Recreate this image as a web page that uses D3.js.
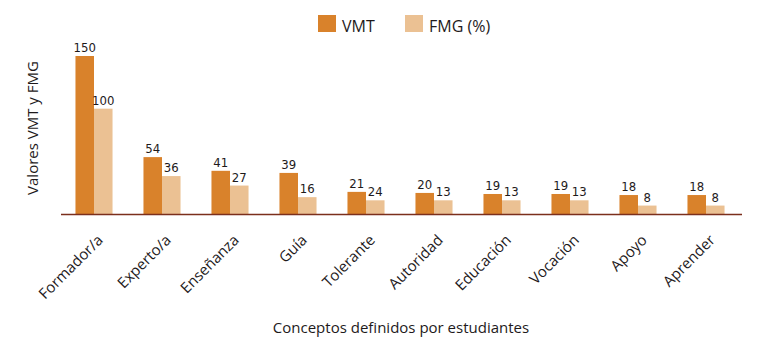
<!DOCTYPE html>
<html>
<head>
<meta charset="utf-8">
<script src="https://cdn.jsdelivr.net/npm/d3@7"></script>
<style>
  body { margin: 0; background: #fff; }
  svg text { font-family: "Open Sans", "Noto Sans", sans-serif; fill: #1e1a1b; }
  .val { font-family: "Liberation Sans Narrow", "DejaVu Sans Condensed", sans-serif; font-stretch: condensed; font-size: 13px; }
</style>
</head>
<body>
<div id="chart"></div>
<script>
// concepts defined by students
var categories = ["Formador/a", "Experto/a", "Enseñanza", "Guía", "Tolerante", "Autoridad", "Educación", "Vocación", "Apoyo", "Aprender"];
var vmtValues = [150, 54, 41, 39, 21, 20, 19, 19, 18, 18];
// bar heights as drawn in the source (Tolerante bar is drawn ~13 high though labelled 24)
var fmgValues = [100, 36, 27, 16, 13, 13, 13, 13, 8, 8];
var fmgLabels = ["100", "36", "27", "16", "24", "13", "13", "13", "8", "8"];
var seriesNames = ["VMT", "FMG (%)"];
var colors = ["#d9822b", "#ebc193"];

var width = 768, height = 354;
var baseY = 214;

var svg = d3.select("#chart").append("svg")
    .attr("width", width)
    .attr("height", height);

// scales
var x0 = d3.scaleBand()
    .domain(categories)
    .range([60, 740])
    .paddingInner(0.455)
    .paddingOuter(0.2275);

var x1 = d3.scaleBand()
    .domain(seriesNames)
    .range([0, x0.bandwidth()]);

var y = d3.scaleLinear()
    .domain([0, 150])
    .range([baseY, 56]);

var rows = categories.map(function (c, i) {
    return {cat: c, vals: [vmtValues[i], fmgValues[i]], labels: [String(vmtValues[i]), fmgLabels[i]]};
});

var groups = svg.selectAll(".grp")
    .data(rows)
    .enter().append("g")
    .attr("class", "grp")
    .attr("transform", function (d) { return "translate(" + x0(d.cat) + ",0)"; });

function cells(d) {
    return d.vals.map(function (v, j) { return {s: seriesNames[j], v: v, j: j, t: d.labels[j]}; });
}

groups.selectAll("rect")
    .data(cells)
    .enter().append("rect")
    .attr("x", function (d) { return x1(d.s); })
    .attr("width", x1.bandwidth())
    .attr("y", function (d) { return y(d.v); })
    .attr("height", function (d) { return baseY - y(d.v); })
    .attr("fill", function (d) { return colors[d.j]; });

groups.selectAll(".val")
    .data(cells)
    .enter().append("text")
    .attr("class", "val")
    .attr("x", function (d) { return x1(d.s) + x1.bandwidth() / 2; })
    .attr("y", function (d) { return y(d.v) - 4; })
    .attr("text-anchor", "middle")
    .text(function (d) { return d.t; });

// baseline
svg.append("line")
    .attr("x1", 61).attr("x2", 742)
    .attr("y1", baseY + 0.5).attr("y2", baseY + 0.5)
    .attr("stroke", "#7b2f1c")
    .attr("stroke-width", 1.6);

// category labels
svg.selectAll(".cat")
    .data(categories)
    .enter().append("text")
    .attr("class", "cat")
    .attr("transform", function (d) {
        return "translate(" + (x0(d) + x0.bandwidth() / 2 + 10) + "," + 241 + ") rotate(-45)";
    })
    .attr("text-anchor", "end")
    .style("font-size", "15px")
    .text(function (d) { return d; });

// axis titles
svg.append("text")
    .attr("x", 401).attr("y", 333)
    .attr("text-anchor", "middle")
    .style("font-size", "15px")
    .text("Conceptos definidos por estudiantes");

svg.append("text")
    .attr("transform", "translate(38,128) rotate(-90)")
    .attr("text-anchor", "middle")
    .style("font-size", "15px")
    .text("Valores VMT y FMG");

// legend
var legend = svg.selectAll(".leg")
    .data(seriesNames)
    .enter().append("g")
    .attr("class", "leg")
    .attr("transform", function (d, i) { return "translate(" + [318, 405][i] + ",15)"; });

legend.append("rect")
    .attr("width", 18).attr("height", 17)
    .attr("fill", function (d, i) { return colors[i]; });

legend.append("text")
    .attr("x", 24).attr("y", 17)
    .style("font-size", "16px")
    .text(function (d) { return d; });
</script>
</body>
</html>
